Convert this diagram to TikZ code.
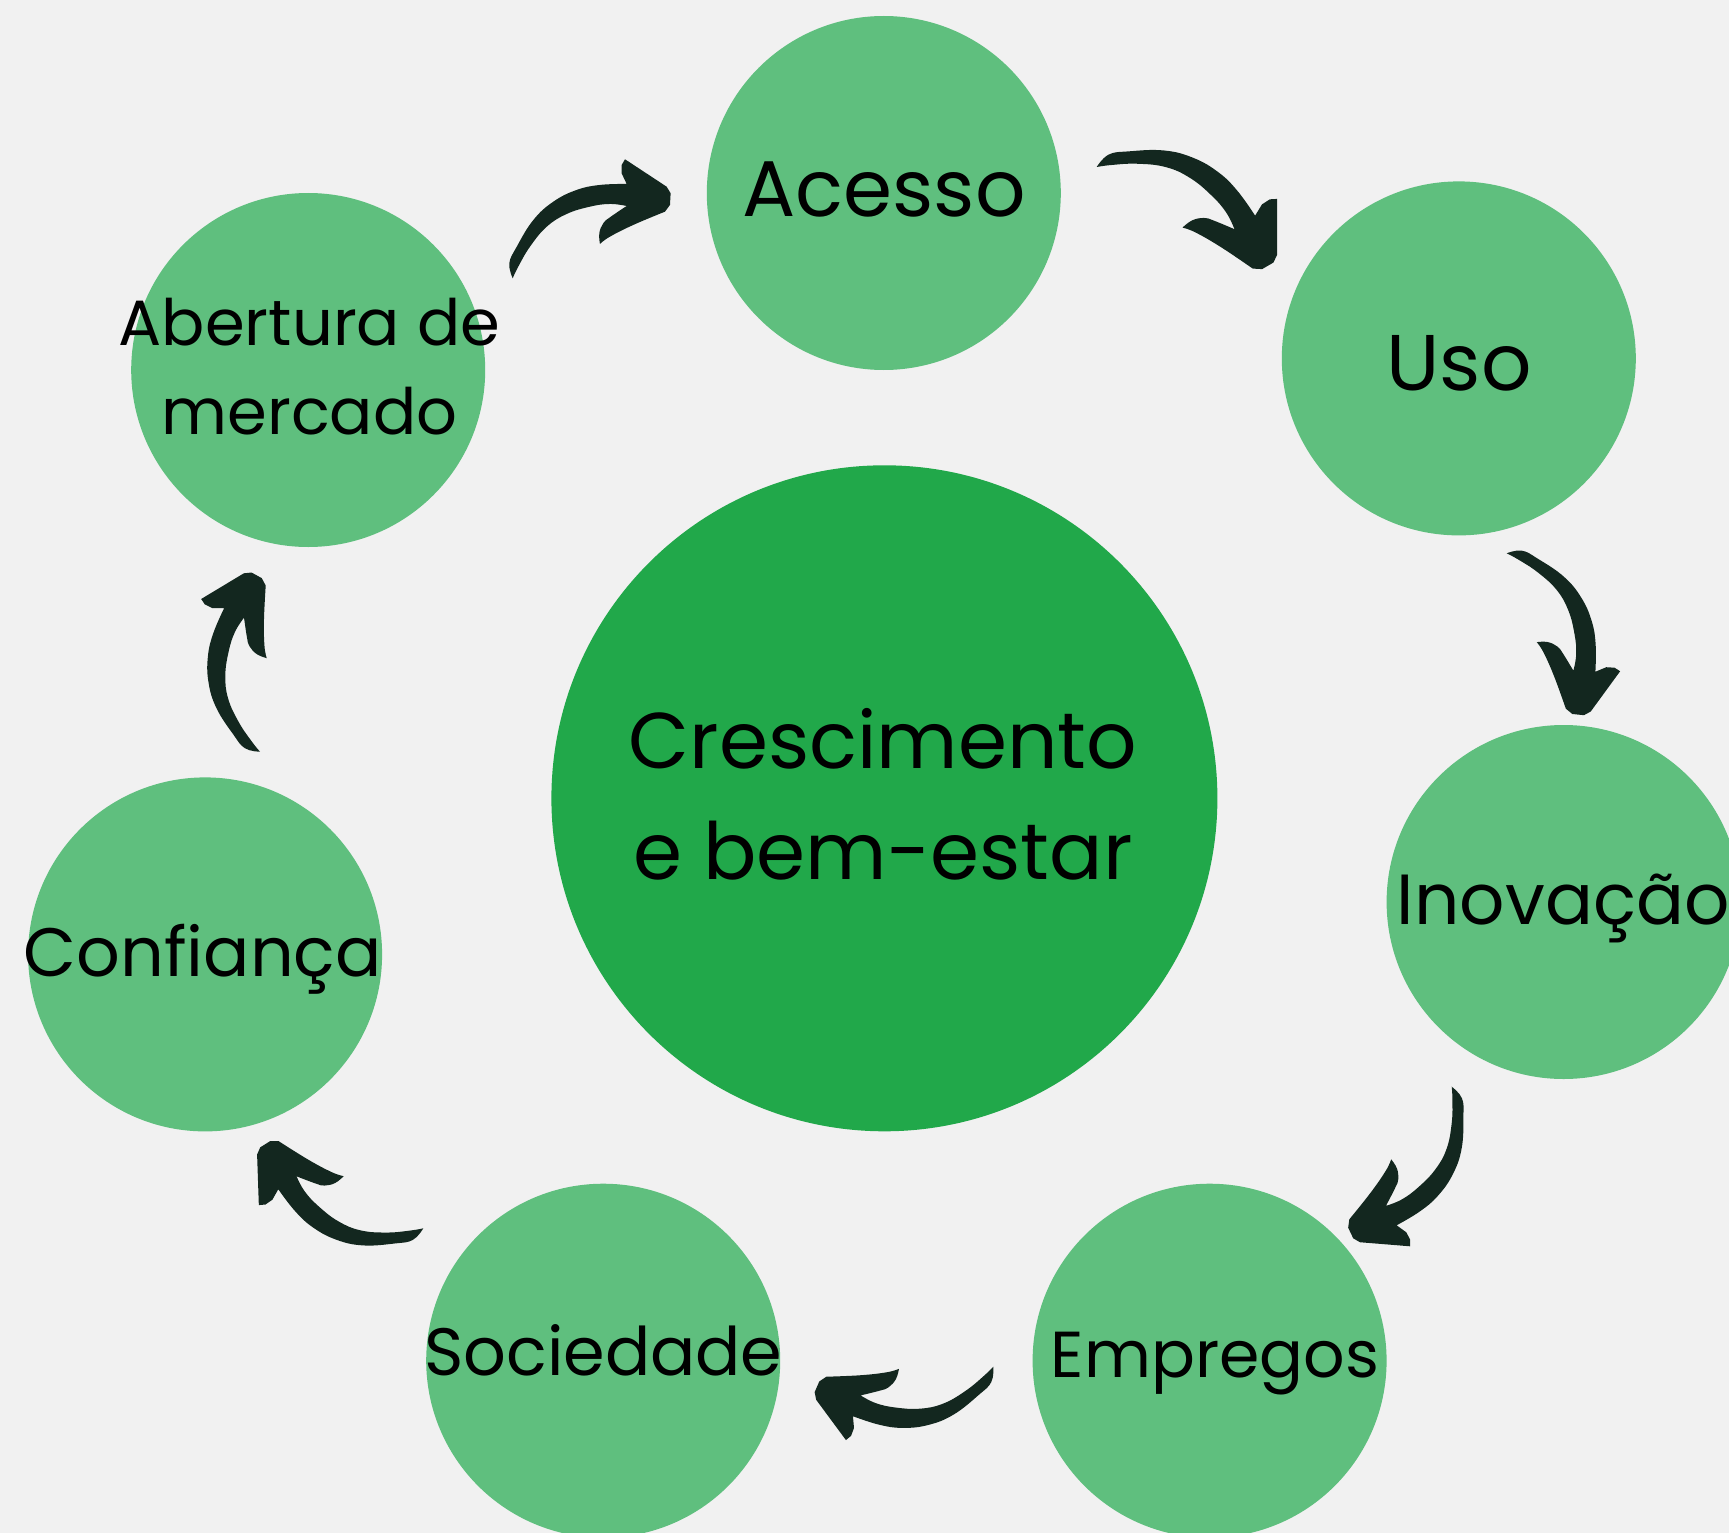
\documentclass[tikz,border=0pt]{standalone}
\usepackage{fontspec}
\setmainfont{Poppins}
\definecolor{bg}{HTML}{F1F1F1}
\definecolor{lightg}{HTML}{5FBF7E}
\definecolor{darkg}{HTML}{21A84A}
\definecolor{arrowc}{HTML}{13271F}
\tikzset{
  bubble/.style={circle, fill=lightg, minimum size=354pt, inner sep=0pt},
  hub/.style={circle, fill=darkg, minimum size=666pt, inner sep=0pt},
  lbl/.style 2 args={font=\fontsize{#1}{#2}\selectfont, text=black, anchor=base, align=center, inner sep=0pt},
  curly/.pic={
    \fill[arrowc]
      plot[smooth, tension=0.7] coordinates {(0,0) (3.7,-14.9) (17.8,-26.4) (44.6,-42.8) (70.7,-50.2) (96.8,-50.2) (119.9,-44.2) (144.2,-33.1)}
      -- (144.5,-44.9) -- (148.3,-52.3) -- (153.8,-55.9) -- (178.7,-12.7) -- (179.3,-5.0) -- (173.5,5.1) -- (166,8.9)
      -- plot[smooth, tension=0.7] coordinates {(166,8.9) (131.7,6.5) (105.6,6.5) (93.4,8.55)}
      -- plot[smooth, tension=0.7] coordinates {(93.4,8.55) (97.6,-1.3) (105.7,-8.5) (114.3,-10.8) (134.3,-13.4)}
      -- plot[smooth, tension=0.7] coordinates {(134.3,-13.4) (120.3,-22.7) (101.2,-29.3) (77.1,-33.2) (53.6,-30.8) (29.7,-20.5) (10.2,-7.9) (0,0)}
      -- cycle;
  }
}
\begin{document}
\begin{tikzpicture}[x=1pt,y=-1pt]
  \fill[bg] (0,0) rectangle (1729,1533);
  \useasboundingbox (0,0) rectangle (1729,1533);
  \clip (0,0) rectangle (1729,1533);

  \node[hub] (hub) at (884.4,798.3) {};
  \node[bubble] (acesso) at (883.8,193) {};
  \node[bubble] (uso) at (1458.8,358.4) {};
  \node[bubble] (inovacao) at (1563.6,902) {};
  \node[bubble] (empregos) at (1209.6,1360.7) {};
  \node[bubble] (sociedade) at (603.2,1360.7) {};
  \node[bubble] (confianca) at (205.1,954.4) {};
  \node[bubble] (abertura) at (308.2,370) {};

  \node[lbl={79}{110.4}] (hubtext) at (883,879) {Crescimento\\e bem-estar};
  \node[lbl={79}{90}] (acessotext) at (884,217) {Acesso};
  \node[lbl={79}{90}] (usotext) at (1459,390) {Uso};
  \node[lbl={71}{80}] (inovacaotext) at (1563.3,924) {Inovação};
  \node[lbl={65}{80}] (empregostext) at (1215,1377) {Empregos};
  \node[lbl={67}{80}] (sociedadetext) at (603.3,1375) {Sociedade};
  \node[lbl={68.5}{80}] (confiancatext) at (202.8,976) {Confiança};
  \node[lbl={64}{89}] (aberturatext) at (309.5,434) {Abertura de\\mercado};

  \pic[rotate=26.7] at (512.7,278.3) {curly};
  \pic[rotate=-30.0, scale=1.12] at (1096.7,167) {curly};
  \pic[rotate=-66.1] at (1506.7,553.3) {curly};
  \pic[rotate=-124.6, scale=1.008] at (1451.7,1086.7) {curly};
  \pic[rotate=-173.5, scale=1.006] at (993.3,1366.7) {curly};
  \pic[rotate=-208, scale=1.015] at (423.3,1228.3) {curly};
  \pic[rotate=-268.9] at (260,751.7) {curly};
\end{tikzpicture}
\end{document}
